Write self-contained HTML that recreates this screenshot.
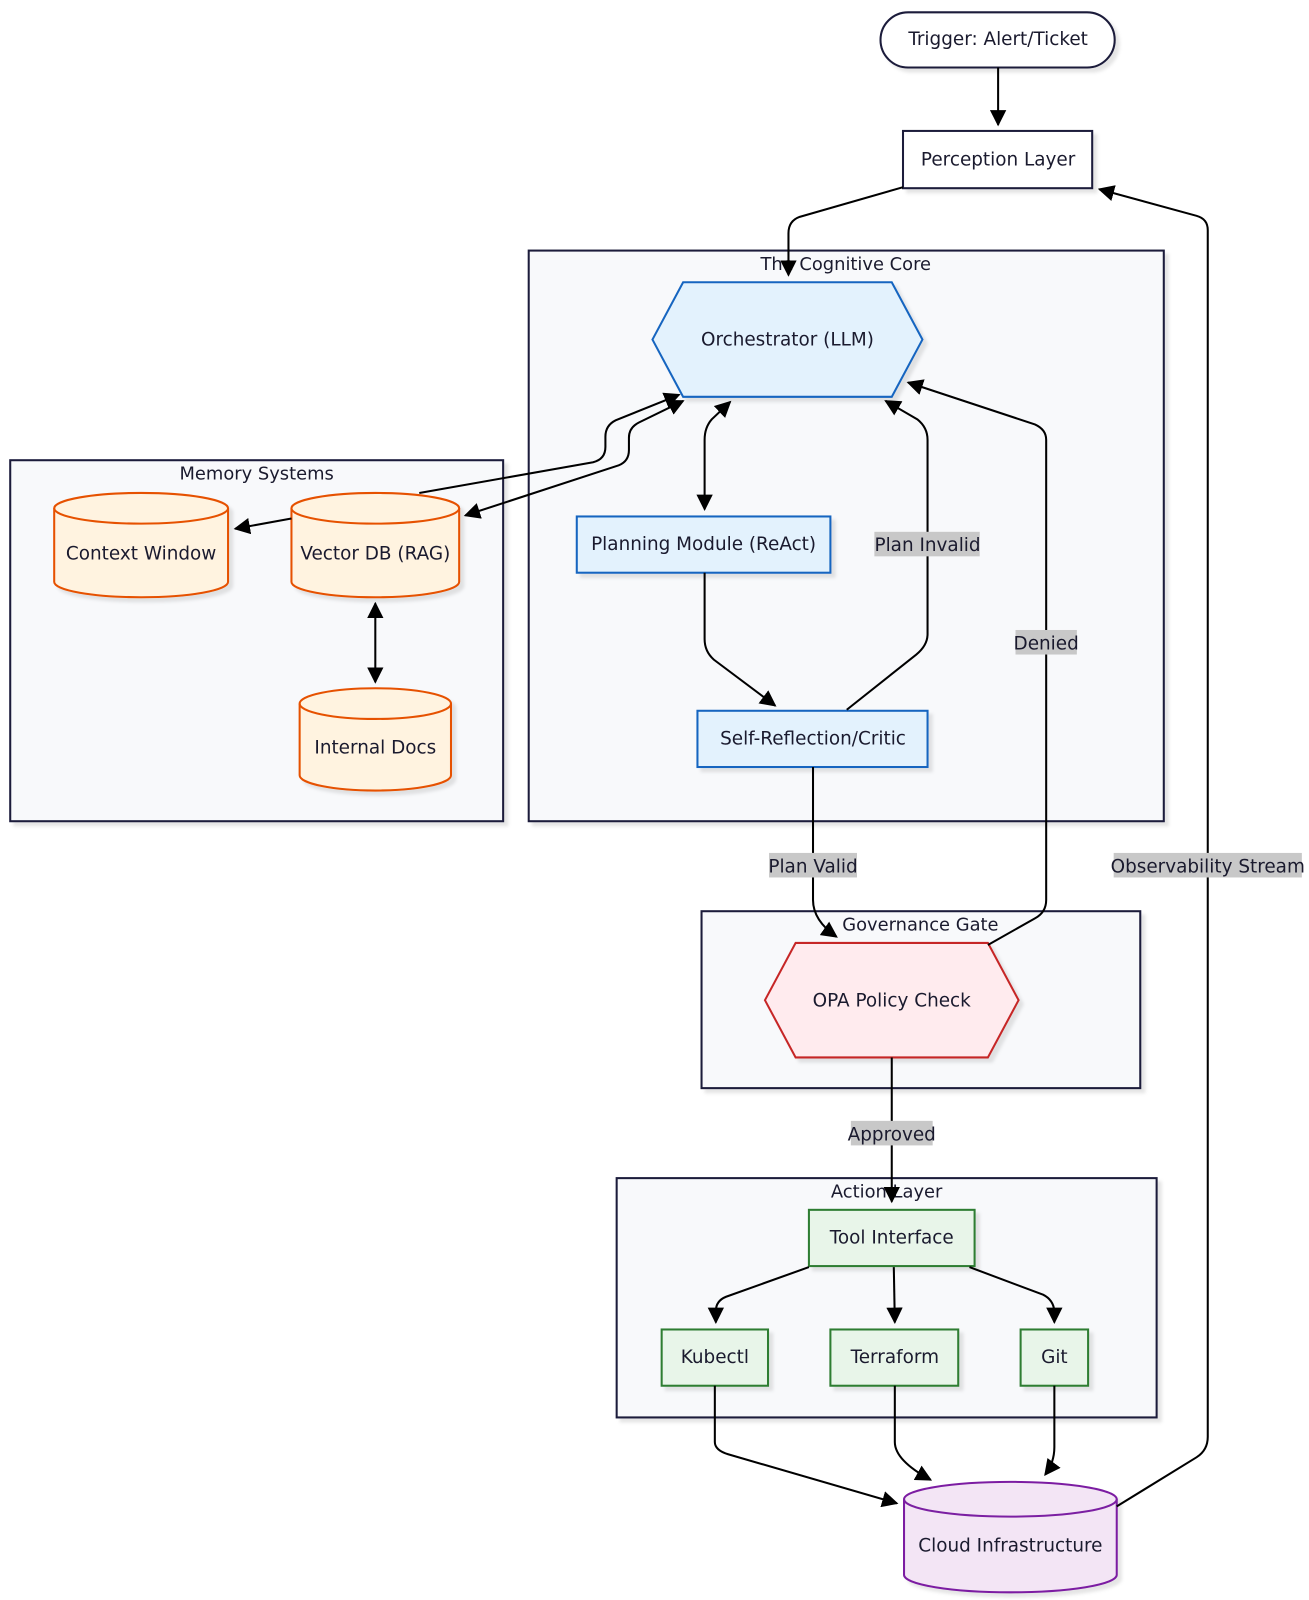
<!DOCTYPE html>
<html><head><meta charset="utf-8"><style>html,body{margin:0;padding:0;background:#fff}svg{display:block}text{font-family:"DejaVu Sans","Liberation Sans",sans-serif;fill:#1a1a2e}</style></head><body>
<svg width="1309" height="1600" viewBox="0 0 1280 1564.5" xmlns="http://www.w3.org/2000/svg">
<defs>
<marker id="a" viewBox="0 0 10 10" refX="9" refY="5" markerWidth="8" markerHeight="8" orient="auto-start-reverse"><path d="M0,0L10,5L0,10z" fill="#000"/></marker>
<filter id="s" x="-10%" y="-10%" width="130%" height="130%"><feDropShadow dx="4" dy="4" stdDeviation="1.5" flood-color="#000" flood-opacity="0.1"/></filter>
</defs>
<g fill="#f8f9fb" stroke="#1a1a3a" stroke-width="2" filter="url(#s)">
<rect x="517" y="245" width="621" height="558"/>
<rect x="10" y="450" width="482" height="353"/>
<rect x="686" y="891" width="429" height="173"/>
<rect x="603" y="1152" width="528" height="234"/>
</g>
<g font-size="17.5" text-anchor="middle">
<text x="827" y="264">The Cognitive Core</text>
<text x="251" y="469">Memory Systems</text>
<text x="900" y="910">Governance Gate</text>
<text x="867" y="1171">Action Layer</text>
</g>
<g filter="url(#s)" stroke-width="2">
<rect x="861" y="12" width="229" height="54" rx="27" fill="#fff" stroke="#1a1a3a"/>
<rect x="883" y="128" width="185" height="56" fill="#fff" stroke="#1a1a3a"/>
<polygon points="638,332 668,276 872,276 902,332 872,388 668,388" fill="#e3f2fd" stroke="#1565c0"/>
<rect x="564" y="505" width="248" height="55" fill="#e3f2fd" stroke="#1565c0"/>
<rect x="682" y="695" width="225" height="55" fill="#e3f2fd" stroke="#1565c0"/>
<polygon points="748,978 778,922 966,922 996,978 966,1034 778,1034" fill="#ffebee" stroke="#c62828"/>
<g fill="#e8f5e9" stroke="#2e7d32">
<rect x="791" y="1183" width="162" height="55"/>
<rect x="647" y="1300" width="104" height="55"/>
<rect x="812" y="1300" width="125" height="55"/>
<rect x="998" y="1300" width="66" height="55"/>
</g>
<g fill="#fff3e0" stroke="#e65100">
<path d="M53,497 a85,15 0 0 1 170,0 v72 a85,15 0 0 1 -170,0z"/>
<path d="M285,497 a82,15 0 0 1 164,0 v72 a82,15 0 0 1 -164,0z"/>
<path d="M293,688 a74,15 0 0 1 148,0 v70 a74,15 0 0 1 -148,0z"/>
</g>
<path d="M884,1466 a104,17 0 0 1 208,0 v74 a104,17 0 0 1 -208,0z" fill="#f3e5f5" stroke="#7b1fa2"/>
</g>
<g fill="none" stroke-width="2">
<path d="M53,497 a85,15 0 0 0 170,0" stroke="#e65100"/>
<path d="M285,497 a82,15 0 0 0 164,0" stroke="#e65100"/>
<path d="M293,688 a74,15 0 0 0 148,0" stroke="#e65100"/>
<path d="M884,1466 a104,17 0 0 0 208,0" stroke="#7b1fa2"/>
</g>
<g font-size="18" text-anchor="middle">
<text x="976" y="44">Trigger: Alert/Ticket</text>
<text x="976" y="162">Perception Layer</text>
<text x="770" y="338">Orchestrator (LLM)</text>
<text x="688" y="538">Planning Module (ReAct)</text>
<text x="795" y="728">Self-Reflection/Critic</text>
<text x="138" y="547">Context Window</text>
<text x="367" y="547">Vector DB (RAG)</text>
<text x="367" y="737">Internal Docs</text>
<text x="872" y="984">OPA Policy Check</text>
<text x="872" y="1216">Tool Interface</text>
<text x="699" y="1333">Kubectl</text>
<text x="875" y="1333">Terraform</text>
<text x="1031" y="1333">Git</text>
<text x="988" y="1517">Cloud Infrastructure</text>
</g>
<g fill="none" stroke="#000" stroke-width="2" marker-end="url(#a)">
<path d="M976,66V122"/>
<path d="M883,183L782,212Q771,216 771,228V269"/>
<path d="M1092,1473L1170,1425Q1181,1418 1181,1405V225Q1181,214 1170,211L1075,185"/>
<path d="M410,482L580,452Q592,449 592,437V427Q592,416 602,411L664,386"/>
<path d="M455,504L605,455Q615,451 615,440V428Q615,418 625,413L668,392" marker-start="url(#a)"/>
<path d="M285,507L230,517"/>
<path d="M367,590V667" marker-start="url(#a)"/>
<path d="M714,393L696,410Q689,418 689,430V498" marker-start="url(#a)"/>
<path d="M689,560V625Q689,637 698,645L758,690"/>
<path d="M828,694L896,640Q907,631 907,620V430Q907,418 897,410L866,392"/>
<path d="M966,924L1012,898Q1023,892 1023,880V430Q1023,420 1012,415L888,374"/>
<path d="M795,750V880Q795,900 818,916"/>
<path d="M872,1034V1175"/>
<path d="M791,1239L710,1268Q700,1272 700,1282V1293"/>
<path d="M874,1239L875,1293"/>
<path d="M948,1239L1020,1266Q1030,1271 1031,1282V1293"/>
<path d="M699,1355V1410Q699,1418 712,1422L877,1470"/>
<path d="M875,1355V1410Q875,1428 910,1447"/>
<path d="M1031,1355V1415Q1031,1430 1022,1442"/>
</g>
<g font-size="18" text-anchor="middle">
<rect x="855" y="520" width="103" height="24" fill="#c8c8c8"/><text x="907" y="539">Plan Invalid</text>
<rect x="993" y="616" width="60" height="24" fill="#c8c8c8"/><text x="1023" y="635">Denied</text>
<rect x="752" y="834" width="86" height="24" fill="#c8c8c8"/><text x="795" y="853">Plan Valid</text>
<rect x="1089" y="834" width="184" height="24" fill="#c8c8c8"/><text x="1181" y="853">Observability Stream</text>
<rect x="832" y="1096" width="80" height="24" fill="#c8c8c8"/><text x="872" y="1115">Approved</text>
</g>
</svg>
</body></html>
